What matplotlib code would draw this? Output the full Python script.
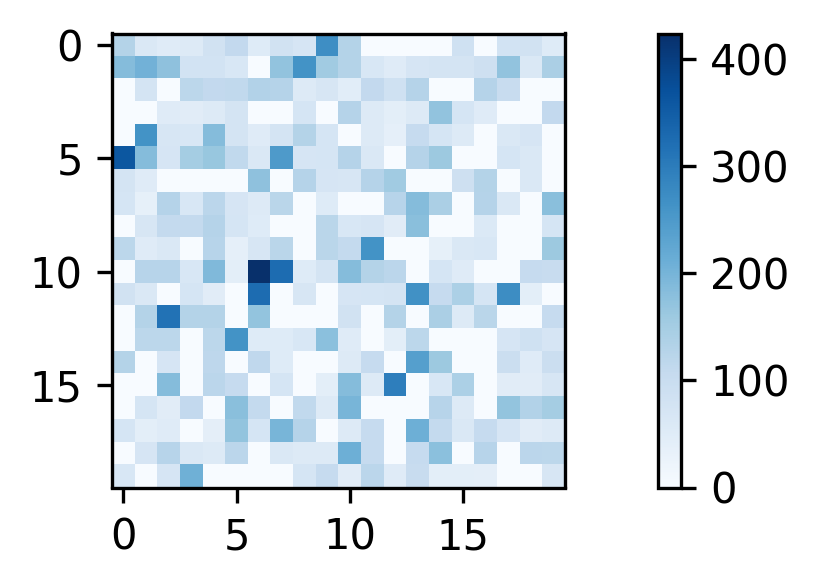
import numpy as np
import matplotlib
matplotlib.use("Agg")
import matplotlib.pyplot as plt

# Values, one list per row
row_00 = [130, 60, 50, 55, 80, 110, 52, 80, 70, 270, 130, 0, 0, 0, 0, 85, 0, 78, 80, 52]
row_01 = [185, 205, 175, 78, 78, 65, 0, 172, 262, 155, 130, 65, 50, 70, 75, 75, 88, 172, 60, 142]
row_02 = [0, 75, 0, 118, 110, 112, 132, 128, 55, 68, 45, 110, 85, 128, 0, 0, 128, 100, 0, 0]
row_03 = [0, 0, 50, 48, 55, 75, 0, 0, 72, 0, 128, 55, 42, 55, 172, 72, 50, 0, 0, 110]
row_04 = [0, 262, 68, 66, 185, 75, 50, 75, 130, 72, 0, 55, 38, 105, 72, 55, 0, 60, 70, 0]
row_05 = [360, 185, 70, 150, 165, 112, 60, 250, 70, 72, 128, 60, 0, 128, 160, 0, 0, 72, 62, 0]
row_06 = [75, 50, 0, 0, 0, 0, 175, 0, 128, 70, 68, 128, 155, 0, 0, 88, 130, 0, 60, 0]
row_07 = [72, 35, 128, 65, 120, 70, 55, 122, 0, 52, 0, 0, 125, 185, 142, 0, 128, 60, 0, 180]
row_08 = [0, 68, 108, 108, 128, 72, 52, 0, 0, 122, 65, 70, 48, 180, 0, 0, 58, 0, 0, 72]
row_09 = [118, 50, 60, 0, 125, 38, 68, 122, 0, 122, 108, 262, 0, 0, 35, 60, 65, 0, 0, 160]
row_10 = [0, 125, 125, 65, 190, 42, 424, 325, 52, 75, 185, 130, 120, 0, 72, 50, 0, 0, 105, 100]
row_11 = [80, 62, 0, 72, 48, 0, 325, 0, 68, 0, 70, 72, 75, 265, 105, 140, 72, 272, 42, 0]
row_12 = [0, 130, 315, 130, 130, 0, 170, 0, 0, 0, 80, 0, 130, 0, 142, 55, 122, 0, 0, 105]
row_13 = [0, 118, 118, 0, 118, 262, 52, 52, 65, 178, 50, 0, 42, 118, 0, 0, 0, 70, 85, 70]
row_14 = [130, 0, 70, 0, 116, 0, 114, 52, 0, 0, 55, 105, 0, 240, 160, 0, 0, 95, 50, 95]
row_15 = [0, 0, 185, 0, 120, 105, 0, 72, 0, 42, 185, 55, 295, 0, 65, 140, 0, 48, 48, 68]
row_16 = [0, 72, 48, 110, 0, 180, 108, 0, 112, 55, 198, 0, 0, 0, 125, 55, 0, 170, 132, 150]
row_17 = [72, 42, 50, 0, 40, 170, 72, 198, 128, 0, 55, 105, 0, 210, 108, 60, 105, 70, 48, 55]
row_18 = [0, 70, 125, 60, 55, 120, 0, 60, 55, 55, 210, 105, 0, 105, 178, 0, 125, 0, 120, 118]
row_19 = [65, 0, 70, 208, 0, 0, 0, 0, 72, 105, 48, 120, 50, 100, 42, 42, 40, 0, 0, 68]

matrix = np.array([
    row_00, row_01, row_02, row_03, row_04, row_05, row_06, row_07, row_08, row_09,
    row_10, row_11, row_12, row_13, row_14, row_15, row_16, row_17, row_18, row_19,
])

W, H = 819, 586
fig = plt.figure(figsize=(W / 300, H / 300), dpi=300)
ax = fig.add_axes([112 / W, 1 - 487.5 / H, 453 / W, 454 / H])
cax = fig.add_axes([658.3 / W, 1 - 487.5 / H, 22.5 / W, 454 / H])

im = ax.imshow(matrix, cmap="Blues", aspect="auto", interpolation="nearest", vmin=0, vmax=424)
ax.set_xticks([0, 5, 10, 15])
ax.set_yticks([0, 5, 10, 15])
fig.colorbar(im, cax=cax, ticks=[0, 100, 200, 300, 400])

fig.savefig("out.png", dpi=300)
